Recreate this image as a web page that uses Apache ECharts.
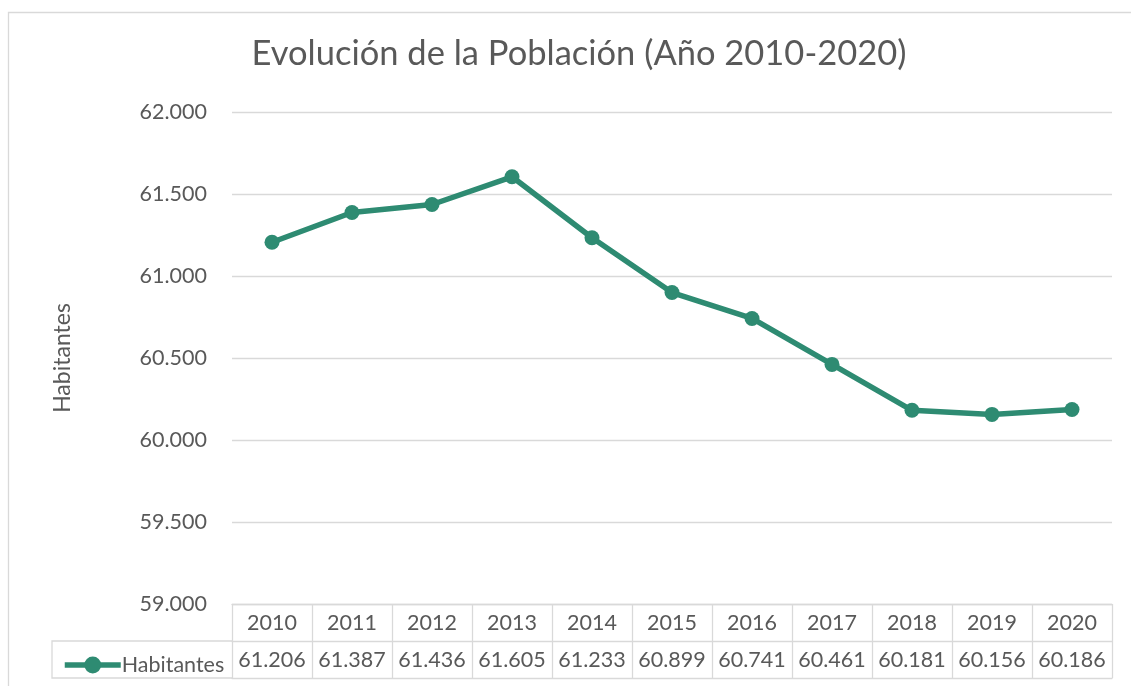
<!DOCTYPE html>
<html>
<head>
<meta charset="utf-8">
<script src="https://cdn.jsdelivr.net/npm/echarts@6/dist/echarts.min.js"></script>
<style>
html,body{margin:0;padding:0;background:#fff;}
#c{width:1131px;height:686px;}
</style>
</head>
<body>
<div id="c"></div>
<script>
const years = ['2010','2011','2012','2013','2014','2015','2016','2017','2018','2019','2020'];
const habitantes = [61206, 61387, 61436, 61605, 61233, 60899, 60741, 60461, 60181, 60156, 60186];
const yTicks = {min: 59000, max: 62000, interval: 500};

const FONT = 'Lato';
const TXT = '#595959';
const GRID = '#D9D9D9';
const LINE = '#2E8B72';
const FS = 21.5;

function fmt(v){
  return String(v).replace(/\B(?=(\d{3})+(?!\d))/g, '.');
}

const chart = echarts.init(document.getElementById('c'), null, {renderer:'canvas'});
chart.setOption({
  animation: false,
  backgroundColor: '#fff',
  textStyle: {fontFamily: FONT},
  title: {
    text: 'Evolución de la Población (Año 2010-2020)',
    left: 574, top: 31, textAlign: 'center',
    textStyle: {fontFamily: FONT, fontSize: 34.5, fontWeight: 'normal', color: TXT}
  },
  legend: {
    data: ['Habitantes'],
    left: 57, top: 649,
    itemWidth: 56, itemHeight: 21, itemGap: 0,
    lineStyle: {width: 5.5, color: LINE},
    textStyle: {fontFamily: FONT, fontSize: FS, color: TXT, padding: [0,0,0,-4]},
    selectedMode: false
  },
  grid: {left: 232, right: 19, top: 112, bottom: 82},
  xAxis: [
    {
      type: 'category', data: years, position: 'bottom', boundaryGap: true,
      axisLine: {show: true, lineStyle: {color: GRID, width: 1.3}},
      axisTick: {show: true, interval: 0, length: 74, lineStyle: {color: GRID, width: 1.3}},
      axisLabel: {interval: 0, margin: 19, verticalAlign: 'middle', fontFamily: FONT, fontSize: FS, color: TXT}
    },
    {
      type: 'category', data: years, position: 'bottom', offset: 37, boundaryGap: true,
      axisLine: {show: true, lineStyle: {color: GRID, width: 1.3}},
      axisTick: {show: false},
      axisLabel: {interval: 0, margin: 19, verticalAlign: 'middle', fontFamily: FONT, fontSize: FS, color: TXT,
        formatter: function(v, i){ return fmt(habitantes[i]); }}
    },
    {
      type: 'category', data: years, position: 'bottom', offset: 74, boundaryGap: true,
      axisLine: {show: true, lineStyle: {color: GRID, width: 1.3}},
      axisTick: {show: false}, axisLabel: {show: false}
    }
  ],
  yAxis: {
    type: 'value', min: yTicks.min, max: yTicks.max, interval: yTicks.interval,
    name: 'Habitantes', nameLocation: 'middle', nameGap: 158, nameRotate: 90,
    nameTextStyle: {fontFamily: FONT, fontSize: 23, color: TXT},
    axisLine: {show: false}, axisTick: {show: false},
    axisLabel: {margin: 25, fontFamily: FONT, fontSize: FS, color: TXT, formatter: fmt},
    splitLine: {lineStyle: {color: GRID, width: 1.3}}
  },
  series: [{
    name: 'Habitantes', type: 'line', data: habitantes,
    symbol: 'circle', symbolSize: 15,
    lineStyle: {color: LINE, width: 5.5},
    itemStyle: {color: LINE}
  }],
  graphic: [
    {type: 'rect', shape: {x: 8.5, y: 12.5, width: 1300, height: 900}, style: {fill: 'none', stroke: GRID, lineWidth: 1.3}, silent: true},
    {type: 'polyline', shape: {points: [[232, 641], [52, 641], [52, 678], [232, 678]]}, style: {fill: 'none', stroke: GRID, lineWidth: 1.3}, silent: true}
  ]
});
</script>
</body>
</html>
